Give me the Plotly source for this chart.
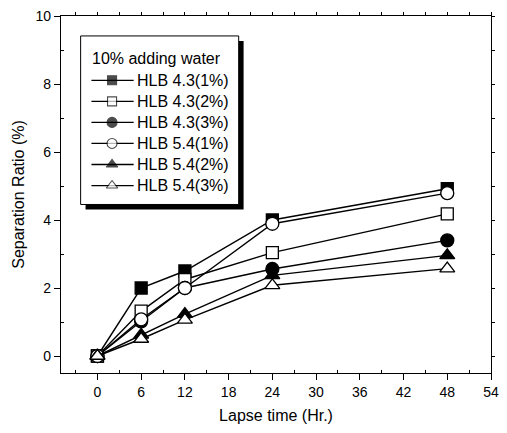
import plotly.graph_objects as go

# ---- data ----
hours = [0, 6, 12, 24, 48]
series_names = ["HLB 4.3(1%)", "HLB 4.3(2%)", "HLB 4.3(3%)",
                "HLB 5.4(1%)", "HLB 5.4(2%)", "HLB 5.4(3%)"]
hlb43_1 = [0.0, 2.0, 2.5, 4.0, 4.92]
hlb43_2 = [0.0, 1.32, 2.25, 3.04, 4.18]
hlb43_3 = [0.0, 1.02, 2.0, 2.56, 3.40]
hlb54_1 = [0.0, 1.08, 2.0, 3.89, 4.79]
hlb54_2 = [0.0, 0.62, 1.23, 2.37, 2.96]
hlb54_3 = [0.0, 0.50, 1.06, 2.08, 2.57]
series_values = [hlb43_1, hlb43_2, hlb43_3, hlb54_1, hlb54_2, hlb54_3]
legend_title = "10% adding water"
x_tick_step = 6
y_tick_step = 2

# ---- styles ----
symbols = ["square", "square", "circle", "circle", "triangle-up", "triangle-up"]
fills = ["black", "white", "black", "white", "black", "white"]
sizes = [12, 12, 13, 13, 13, 13]
leg_sizes = [9, 9, 10, 10, 10, 10]
FONT = "Liberation Sans, Arial, sans-serif"

W, H = 507, 433
L, R, T, B = 61, 499, 15, 373

fig = go.Figure()
for name, vals, sym, fc, sz in zip(series_names, series_values, symbols, fills, sizes):
    fig.add_trace(go.Scatter(
        x=hours, y=vals, mode="lines+markers", name=name, showlegend=False,
        line=dict(color="black", width=1.4),
        marker=dict(symbol=sym, size=sz, color=fc, line=dict(color="black", width=1.3)),
    ))

# ---- manual legend on a pixel-coordinate overlay axis ----
box = dict(x0=81, x1=242, y0=35, y1=204)
shadow_off = 5
fig.add_shape(type="rect", xref="x2", yref="y2",
              x0=box["x0"] + shadow_off, x1=box["x1"] + shadow_off,
              y0=box["y0"] + shadow_off, y1=box["y1"] + shadow_off,
              fillcolor="black", line=dict(width=0), layer="below")
fig.add_shape(type="rect", xref="x2", yref="y2", **box,
              fillcolor="white", line=dict(color="black", width=1), layer="below")
fig.add_annotation(xref="x2", yref="y2", x=91, y=57.5, text=legend_title,
                   showarrow=False, xanchor="left", yanchor="middle",
                   font=dict(family=FONT, size=16, color="black"))
for i, (name, sym, fc, sz) in enumerate(zip(series_names, symbols, fills, leg_sizes)):
    yy = 79.5 + 21.1 * i
    fig.add_trace(go.Scatter(
        x=[92, 113, 135], y=[yy, yy, yy], xaxis="x2", yaxis="y2",
        mode="lines+markers", showlegend=False, hoverinfo="skip",
        line=dict(color="black", width=1.3),
        marker=dict(symbol=sym, size=[0, sz, 0], color=fc,
                    line=dict(color="black", width=[0, 1.1, 0])),
    ))
    fig.add_annotation(xref="x2", yref="y2", x=136, y=yy, text=name,
                       showarrow=False, xanchor="left", yanchor="middle",
                       font=dict(family=FONT, size=16, color="black"))

# invisible traces so the mirror-tick axes (top / right) are drawn
fig.add_trace(go.Scatter(x=[0], y=[0], xaxis="x3", yaxis="y", mode="markers",
                         marker=dict(opacity=0), showlegend=False, hoverinfo="skip"))
fig.add_trace(go.Scatter(x=[0], y=[0], xaxis="x", yaxis="y3", mode="markers",
                         marker=dict(opacity=0), showlegend=False, hoverinfo="skip"))

axis_common = dict(showline=True, linecolor="black", linewidth=1.4,
                   showgrid=False, zeroline=False, color="black")

fig.update_layout(
    width=W, height=H,
    margin=dict(l=L, r=W - R, t=T, b=H - B),
    paper_bgcolor="white", plot_bgcolor="white",
    font=dict(family=FONT, color="black"),
    xaxis=dict(range=[-5, 54], tickmode="linear", tick0=0, dtick=x_tick_step,
               ticks="outside", ticklen=6, tickwidth=1.3, tickcolor="black",
               tickfont=dict(size=14),
               minor=dict(tickmode="linear", tick0=3, dtick=6, ticks="inside", ticklen=3,
                          tickcolor="black", tickwidth=1.2),
               title=dict(text="Lapse time (Hr.)", font=dict(size=16), standoff=10),
               **axis_common),
    yaxis=dict(range=[-0.5, 10], tickmode="linear", tick0=0, dtick=y_tick_step,
               ticks="outside", ticklen=6, tickwidth=1.3, tickcolor="black",
               tickfont=dict(size=14),
               minor=dict(tickmode="linear", tick0=1, dtick=2, ticks="inside", ticklen=3,
                          tickcolor="black", tickwidth=1.2),
               title=dict(text="Separation Ratio (%)", font=dict(size=16), standoff=6),
               **axis_common),
    xaxis2=dict(range=[L, R], visible=False, overlaying="x", anchor="y2", fixedrange=True),
    yaxis2=dict(range=[B, T], visible=False, overlaying="y", anchor="x2", fixedrange=True),
    xaxis3=dict(range=[-5, 54], overlaying="x", side="top", anchor="y",
                tickmode="linear", dtick=3, tick0=0, ticks="outside", ticklen=3,
                tickwidth=1.2, tickcolor="black",
                showticklabels=False, **axis_common),
    yaxis3=dict(range=[-0.5, 10], overlaying="y", side="right", anchor="x",
                tickmode="linear", dtick=1, tick0=0, ticks="outside", ticklen=3,
                tickwidth=1.2, tickcolor="black",
                showticklabels=False, **axis_common),
)

fig.write_html("out.html")
